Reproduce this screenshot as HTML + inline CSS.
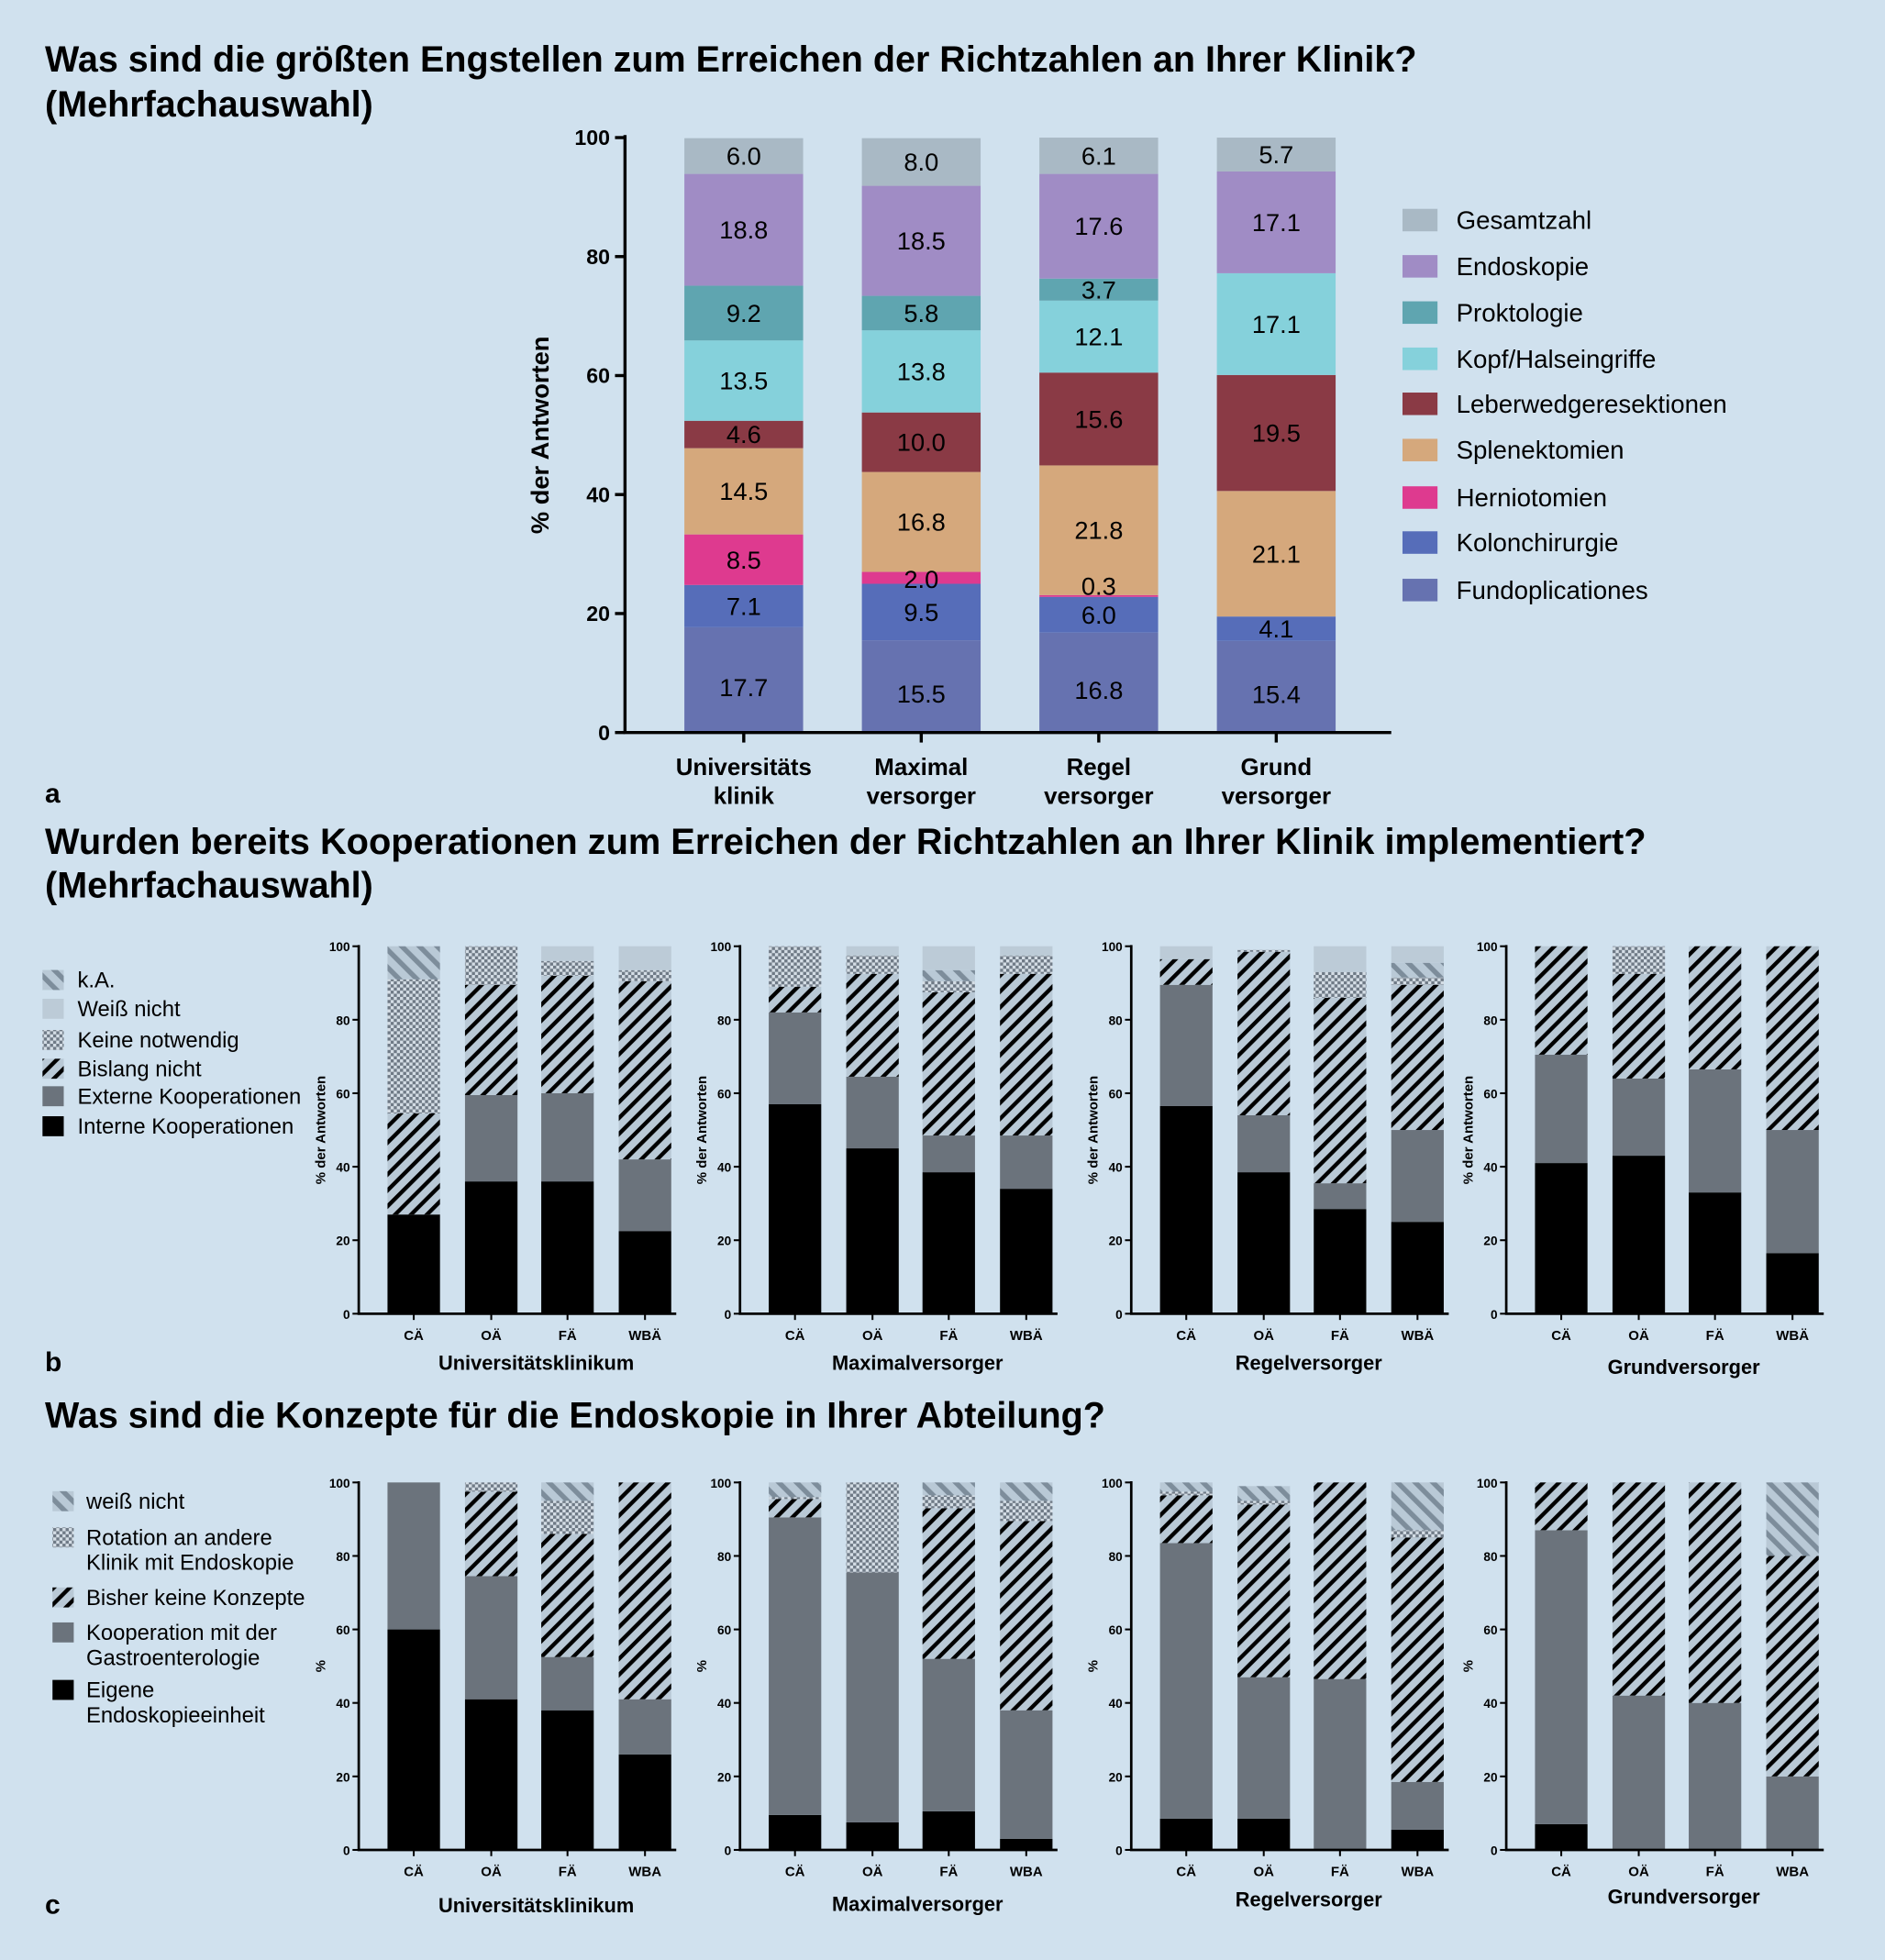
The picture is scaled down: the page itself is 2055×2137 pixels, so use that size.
<!DOCTYPE html>
<html><head><meta charset="utf-8"><style>
html,body{margin:0;padding:0;background:#d0e1ee;}
svg{display:block;font-family:"Liberation Sans",Arial,sans-serif;}
</style></head><body>
<svg id="fig" width="2055" height="2137" viewBox="0 0 1508 1568" xmlns="http://www.w3.org/2000/svg">
<defs>
<pattern id="pFwd" patternUnits="userSpaceOnUse" width="9" height="9" patternTransform="rotate(45)"><rect width="9" height="9" fill="#b9c9d6"/><rect width="3.2" height="9" fill="#000"/></pattern>
<pattern id="pBack" patternUnits="userSpaceOnUse" width="10" height="10" patternTransform="rotate(-45)"><rect width="10" height="10" fill="#b9c9d6"/><rect width="4" height="10" fill="#7d8d9b"/></pattern>
<pattern id="pChk" patternUnits="userSpaceOnUse" width="5" height="5"><rect width="5" height="5" fill="#d4dde5"/><rect width="2.5" height="2.5" fill="#6f7a86"/><rect x="2.5" y="2.5" width="2.5" height="2.5" fill="#6f7a86"/></pattern>
</defs>
<rect width="1508" height="1568" fill="#d0e1ee"/>
<g id="root"></g>
</svg>
<script>
// ---------- Panel a data ----------
const aCategories = [["Universitäts","klinik"],["Maximal","versorger"],["Regel","versorger"],["Grund","versorger"]];
const aSeriesNames = ["Fundoplicationes","Kolonchirurgie","Herniotomien","Splenektomien","Leberwedgeresektionen","Kopf/Halseingriffe","Proktologie","Endoskopie","Gesamtzahl"];
const aFundo = [17.7,15.5,16.8,15.4];
const aKolon = [7.1,9.5,6.0,4.1];
const aHernio = [8.5,2.0,0.3,0];
const aSplen = [14.5,16.8,21.8,21.1];
const aLeber = [4.6,10.0,15.6,19.5];
const aKopf = [13.5,13.8,12.1,17.1];
const aProkt = [9.2,5.8,3.7,0];
const aEndo = [18.8,18.5,17.6,17.1];
const aGesamt = [6.0,8.0,6.1,5.7];
const aTicks = [0,20,40,60,80,100];

// ---------- Panel b data (per chart: CÄ, OÄ, FÄ, WBÄ) ----------
const bGroups = ["CÄ","OÄ","FÄ","WBÄ"];
const bChartNames = ["Universitätsklinikum","Maximalversorger","Regelversorger","Grundversorger"];
const bSeriesNames = ["Interne Kooperationen","Externe Kooperationen","Bislang nicht","Keine notwendig","k.A.","Weiß nicht"];
const bUniIntern = [27,36,36,22.5];
const bUniExtern = [0,23.5,24,19.5];
const bUniBislang = [27.5,30,32,48.5];
const bUniKeine = [36.5,10.5,4,3];
const bUniKA = [9,0,0,0];
const bUniWeiss = [0,0,4,6.5];
const bMaxIntern = [57,45,38.5,34];
const bMaxExtern = [25,19.5,10,14.5];
const bMaxBislang = [7,28,39,44];
const bMaxKeine = [11,5,3,5];
const bMaxKA = [0,0,3,0];
const bMaxWeiss = [0,2.5,6.5,2.5];
const bRegIntern = [56.5,38.5,28.5,25];
const bRegExtern = [33,15.5,7,25];
const bRegBislang = [7,44.5,50.5,39.5];
const bRegKeine = [0,0.5,7,2];
const bRegKA = [0,0,0,4];
const bRegWeiss = [3.5,0,7,4.5];
const bGruIntern = [41,43,33,16.5];
const bGruExtern = [29.5,21,33.5,33.5];
const bGruBislang = [29.5,28.5,33.5,50];
const bGruKeine = [0,7.5,0,0];
const bGruKA = [0,0,0,0];
const bGruWeiss = [0,0,0,0];

// ---------- Panel c data ----------
const cGroups = ["CÄ","OÄ","FÄ","WBA"];
const cSeriesNames = ["Eigene Endoskopieeinheit","Kooperation mit der Gastroenterologie","Bisher keine Konzepte","Rotation an andere Klinik mit Endoskopie","weiß nicht"];
const cUniEigene = [60,41,38,26];
const cUniKoop = [40,33.5,14.5,15];
const cUniBisher = [0,23,33.5,59];
const cUniRot = [0,2.5,9,0];
const cUniWeiss = [0,0,5,0];
const cMaxEigene = [9.5,7.5,10.5,3];
const cMaxKoop = [81,68,41.5,35];
const cMaxBisher = [5,0,41,51.5];
const cMaxRot = [0.5,24.5,3.5,5.5];
const cMaxWeiss = [4,0,3.5,5];
const cRegEigene = [8.5,8.5,0,5.5];
const cRegKoop = [75,38.5,46.5,13];
const cRegBisher = [13,47,53.5,66.5];
const cRegRot = [1,1,0,2];
const cRegWeiss = [2.5,4,0,13];
const cGruEigene = [7,0,0,0];
const cGruKoop = [80,42,40,20];
const cGruBisher = [13,58,60,60];
const cGruRot = [0,0,0,0];
const cGruWeiss = [0,0,0,20];
const smallTicks = [0,20,40,60,80,100];

const NS = "http://www.w3.org/2000/svg";
const root = document.getElementById('root');
function mk(tag, attrs, parent, text){
  const e = document.createElementNS(NS, tag);
  for (const k in attrs) e.setAttribute(k, attrs[k]);
  if (text !== undefined) e.textContent = text;
  (parent||root).appendChild(e);
  return e;
}
function txt(x,y,s,size,opts,name,parent){
  const o = Object.assign({x:x,y:y,'font-size':size,fill:'#000'}, opts||{});
  const e = mk('text',o,parent,s);
  
  
  return e;
}

// ---------- Titles ----------
txt(36,57,"Was sind die größten Engstellen zum Erreichen der Richtzahlen an Ihrer Klinik?",29,{'font-weight':'bold'},'title-a-line1');
txt(36,93,"(Mehrfachauswahl)",29,{'font-weight':'bold'},'title-a-line2');
txt(36,642,"a",22,{'font-weight':'bold'},'panel-label-a');
txt(36,683,"Wurden bereits Kooperationen zum Erreichen der Richtzahlen an Ihrer Klinik implementiert?",29.2,{'font-weight':'bold'},'title-b-line1');
txt(36,718,"(Mehrfachauswahl)",29,{'font-weight':'bold'},'title-b-line2');
txt(36,1097,"b",22,{'font-weight':'bold'},'panel-label-b');
txt(36,1142,"Was sind die Konzepte für die Endoskopie in Ihrer Abteilung?",29,{'font-weight':'bold'},'title-c');
txt(36,1531,"c",22,{'font-weight':'bold'},'panel-label-c');

// ---------- Panel a ----------
(function(){
  const g = mk('g',{});
  
  
  const labels = mk('g',{});
  
  
  const x0=500, y0=586, yTop=110, bw=95;
  const centers=[595,737,879,1021];
  const y = v => y0 - (v/100)*(y0-yTop);
  const colors=["#6672b0","#566db9","#de3a8f","#d5a87c","#8a3a45","#85d1db","#5fa5b0","#a08cc5","#a9b9c5"];
  const series=[aFundo,aKolon,aHernio,aSplen,aLeber,aKopf,aProkt,aEndo,aGesamt];
  aCategories.forEach((cat,i)=>{
    let acc=0;
    series.forEach((s,k)=>{
      const v=s[i]; if(!v) return;
      const r=mk('rect',{x:centers[i]-bw/2,y:y(acc+v),width:bw,height:y(acc)-y(acc+v),fill:colors[k]},g);
      
      
      let ly=y(acc+v/2)+7;
      if (v<1) ly-=8; else if (v<3) ly+=1;
      if (k===0) ly+=6;
      txt(centers[i],ly,v.toFixed(1),20,{'text-anchor':'middle'},'value-label',labels);
      acc+=v;
    });
    txt(centers[i],620,cat[0],19,{'text-anchor':'middle','font-weight':'bold'},'x-label-'+i,g);
    txt(centers[i],643,cat[1],19,{'text-anchor':'middle','font-weight':'bold'},'x-label-'+i+'-line2',g);
    const tk=mk('line',{x1:centers[i],x2:centers[i],y1:y0,y2:y0+8,stroke:'#000','stroke-width':2.5},g);
     
  });
  aTicks.forEach(t=>{
    const l=mk('line',{x1:x0-8,x2:x0,y1:y(t),y2:y(t),stroke:'#000','stroke-width':2.5},g);
     
    txt(x0-12,y(t)+6,String(t),17,{'text-anchor':'end','font-weight':'bold'},'y-tick-label',g);
  });
  const ax=mk('path',{d:`M${x0},${yTop-2} V${y0} H1113`,stroke:'#000','stroke-width':2.5,fill:'none'},g);
   
  txt(0,0,"% der Antworten",20,{'text-anchor':'middle','font-weight':'bold',transform:`translate(439,348) rotate(-90)`},'y-axis-title',g);
  const legY=[176,213,250,287,323,360,398,434,472];
  const legNames=["Gesamtzahl","Endoskopie","Proktologie","Kopf/Halseingriffe","Leberwedgeresektionen","Splenektomien","Herniotomien","Kolonchirurgie","Fundoplicationes"];
  const legCols=[colors[8],colors[7],colors[6],colors[5],colors[4],colors[3],colors[2],colors[1],colors[0]];
  legNames.forEach((n,i)=>{
    const r=mk('rect',{x:1122,y:legY[i]-9,width:28,height:18,fill:legCols[i]},g);
     
    txt(1165,legY[i]+7,n,20.3,{},'legend-entry',g);
  });
})();

// ---------- Small chart helper ----------
const plotOffsets=[287,592,905,1205];
function smallChart(idx, y0, yTop, series, fills, groups, name, nameY, yTitle, panel){
  const g=mk('g',{});
  
  
  const x0=plotOffsets[idx], bw=42;
  const centers=[x0+44,x0+106,x0+167,x0+229];
  const y=v=>y0-(v/100)*(y0-yTop);
  groups.forEach((grp,i)=>{
    let acc=0;
    series.forEach((s,k)=>{
      const v=s[i]; if(!v) return;
      const r=mk('rect',{x:centers[i]-bw/2,y:y(acc+v),width:bw,height:y(acc)-y(acc+v),fill:fills[k]},g);
      
      
      acc+=v;
    });
    const tk=mk('line',{x1:centers[i],x2:centers[i],y1:y0,y2:y0+5,stroke:'#000','stroke-width':1.5},g);
     
    txt(centers[i],y0+21,grp,11,{'text-anchor':'middle','font-weight':'bold'},'x-tick-label',g);
  });
  smallTicks.forEach(t=>{
    const l=mk('line',{x1:x0-5,x2:x0,y1:y(t),y2:y(t),stroke:'#000','stroke-width':1.5},g);
     
    txt(x0-7,y(t)+4,String(t),10,{'text-anchor':'end','font-weight':'bold'},'y-tick-label',g);
  });
  const ax=mk('path',{d:`M${x0},${yTop-1} V${y0} H${x0+254}`,stroke:'#000','stroke-width':2,fill:'none'},g);
   
  txt(0,0,yTitle,11,{'text-anchor':'middle','font-weight':'bold',transform:`translate(${x0-27},${(y0+yTop)/2}) rotate(-90)`},'y-axis-title',g);
  txt(x0+142,nameY,name,16,{'text-anchor':'middle','font-weight':'bold'},'chart-title',g);
}
const bFills=["#000","#6b737c","url(#pFwd)","url(#pChk)","url(#pBack)","#bccbd7"];
const bData=[
  [bUniIntern,bUniExtern,bUniBislang,bUniKeine,bUniKA,bUniWeiss],
  [bMaxIntern,bMaxExtern,bMaxBislang,bMaxKeine,bMaxKA,bMaxWeiss],
  [bRegIntern,bRegExtern,bRegBislang,bRegKeine,bRegKA,bRegWeiss],
  [bGruIntern,bGruExtern,bGruBislang,bGruKeine,bGruKA,bGruWeiss]];
const bNameY=[1096,1096,1096,1099];
bData.forEach((d,i)=>smallChart(i,1051,757,d,bFills,bGroups,bChartNames[i],bNameY[i],"% der Antworten",'b'));

const cFills=["#000","#6b737c","url(#pFwd)","url(#pChk)","url(#pBack)"];
const cData=[
  [cUniEigene,cUniKoop,cUniBisher,cUniRot,cUniWeiss],
  [cMaxEigene,cMaxKoop,cMaxBisher,cMaxRot,cMaxWeiss],
  [cRegEigene,cRegKoop,cRegBisher,cRegRot,cRegWeiss],
  [cGruEigene,cGruKoop,cGruBisher,cGruRot,cGruWeiss]];
const cNameY=[1530,1529,1525,1523];
cData.forEach((d,i)=>smallChart(i,1480,1186,d,cFills,cGroups,bChartNames[i],cNameY[i],"%",'c'));

// ---------- Legends b and c ----------
(function(){
  const g=mk('g',{});
   
  const rows=[[784,"k.A.","url(#pBack)"],[807,"Weiß nicht","#bccbd7"],[832,"Keine notwendig","url(#pChk)"],[855,"Bislang nicht","url(#pFwd)"],[877,"Externe Kooperationen","#6b737c"],[901,"Interne Kooperationen","#000"]];
  rows.forEach(r=>{
    const s=mk('rect',{x:34,y:r[0]-8,width:17,height:16,fill:r[2]},g);
     
    txt(62,r[0]+6,r[1],17.5,{},'legend-entry',g);
  });
  const g2=mk('g',{});
   
  const rows2=[[1201,["weiß nicht"],"url(#pBack)"],[1230,["Rotation an andere","Klinik mit Endoskopie"],"url(#pChk)"],[1278,["Bisher keine Konzepte"],"url(#pFwd)"],[1306,["Kooperation mit der"," Gastroenterologie"],"#6b737c"],[1352,["Eigene","Endoskopieeinheit"],"#000"]];
  rows2.forEach(r=>{
    const s=mk('rect',{x:42,y:r[0]-8,width:17,height:16,fill:r[2]},g2);
     
    r[1].forEach((l,j)=>txt(69,r[0]+6+j*20,l,17.5,{'xml:space':'preserve'},'legend-entry',g2));
  });
})();
</script>
</body></html>
